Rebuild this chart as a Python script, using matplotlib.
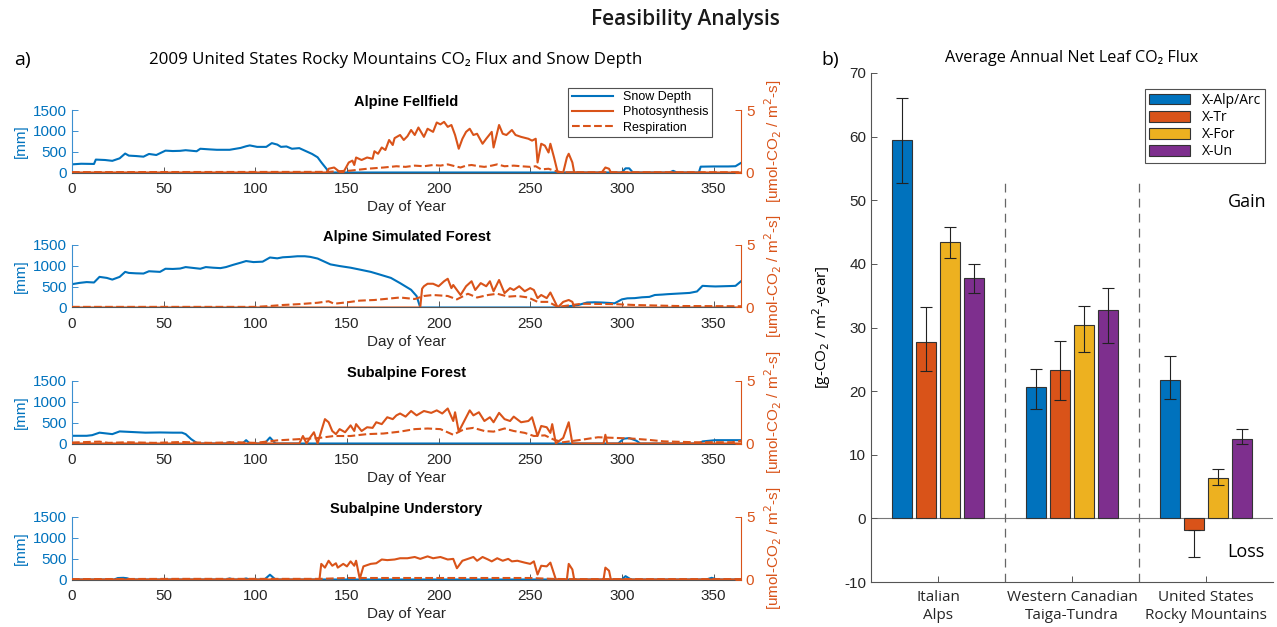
import numpy as np
import matplotlib.pyplot as plt

plt.rcParams['font.family'] = ['Liberation Sans', 'DejaVu Sans']
plt.rcParams['axes.unicode_minus'] = False
SEG = ['Open Sans', 'DejaVu Sans']

BLUE = '#0072BD'
LBLUE = '#3b8fd0'
ORANGE = '#D95319'
YELLOW = '#EDB120'
PURPLE = '#7E2F8E'

# ---- panel a: daily series ----
fell_snow_day = [0, 5, 12, 13, 18, 22, 26, 29, 31, 35, 39, 42, 46, 51, 55, 59, 62, 68, 70, 75,
                 79, 86, 92, 95, 97, 101, 106, 109, 112, 114, 117, 120, 124, 127, 131, 134, 136,
                 139, 140, 300, 302, 304, 306, 326, 328, 330, 342, 343, 350, 358, 362, 365]
fell_snow = [195, 210, 205, 310, 300, 280, 340, 455, 405, 395, 380, 445, 420, 525, 515, 520, 535,
             510, 570, 555, 545, 545, 590, 630, 650, 615, 615, 705, 670, 615, 625, 570, 585, 525,
             445, 365, 245, 80, 0, 0, 100, 100, 0, 0, 40, 0, 0, 140, 145, 145, 150, 230]
fell_ps_day = [0, 139, 140, 143, 146, 148, 151, 153, 154, 155, 158, 161, 164, 165, 167, 169, 171,
               173, 175, 176, 179, 181, 183, 185, 187, 189, 192, 194, 197, 199, 201, 203, 205, 207,
               209, 211, 213, 215, 217, 219, 221, 224, 226, 229, 230, 233, 235, 237, 240, 242,
               245, 249, 251, 253, 254, 256, 258, 260, 261, 263, 265, 268, 270, 271, 273, 274,
               289, 291, 293, 294, 365]
fell_ps = [0, 0, 0.3, 0.4, 0.05, 0, 0.8, 0.95, 0.6, 1.2, 1.0, 1.2, 1.1, 1.7, 1.5, 2.0, 1.8, 2.6,
           2.2, 2.75, 3.0, 2.6, 2.9, 3.4, 3.0, 3.6, 2.85, 3.5, 3.25, 4.0, 3.85, 4.05, 3.65, 3.8,
           3.0, 1.9, 2.7, 3.25, 3.5, 3.0, 3.1, 2.3, 2.7, 3.25, 2.0, 3.8, 3.1, 3.0, 3.4, 3.0, 2.85,
           2.7, 2.55, 2.7, 0.8, 2.3, 2.15, 1.6, 2.3, 1.2, 0, 0, 1.2, 1.5, 0.8, 0, 0, 0.4, 0.3, 0, 0]
fell_rs_day = [0, 140, 145, 152, 161, 170, 177, 182, 187, 192, 197, 201, 205, 209, 212, 215, 218,
               222, 225, 229, 232, 236, 241, 245, 250, 253, 256, 260, 263, 267, 365]
fell_rs = [0.03, 0.05, 0.1, 0.15, 0.3, 0.4, 0.5, 0.45, 0.55, 0.5, 0.6, 0.55, 0.65, 0.5, 0.4, 0.55,
           0.6, 0.5, 0.45, 0.55, 0.65, 0.5, 0.55, 0.5, 0.45, 0.5, 0.25, 0.3, 0.15, 0.02, 0.02]

simf_snow_day = [0, 4, 8, 12, 15, 19, 22, 26, 29, 31, 35, 39, 42, 48, 51, 55, 59, 62, 66, 70, 73,
                 77, 81, 84, 88, 92, 95, 99, 104, 108, 112, 115, 119, 123, 127, 130, 134, 137, 141,
                 146, 152, 157, 163, 168, 174, 179, 185, 188, 190, 266, 271, 276, 281, 285, 289,
                 293, 296, 300, 303, 307, 311, 315, 318, 322, 325, 329, 333, 337, 341, 344, 348,
                 351, 355, 359, 362, 365]
simf_snow = [560, 590, 610, 600, 735, 710, 670, 735, 855, 830, 820, 815, 870, 855, 930, 925, 935,
             970, 950, 930, 970, 955, 945, 970, 1025, 1075, 1115, 1090, 1100, 1200, 1180, 1205,
             1215, 1230, 1230, 1215, 1175, 1115, 1035, 995, 955, 910, 855, 790, 710, 585, 425, 275,
             0, 0, 30, 57, 120, 125, 120, 110, 100, 195, 220, 225, 245, 255, 300, 310, 320, 330,
             340, 350, 385, 520, 510, 505, 510, 515, 520, 630]
simf_ps_day = [0, 190, 191, 192, 194, 197, 200, 203, 205, 207, 208, 210, 212, 215, 218, 220, 223,
               226, 228, 230, 233, 236, 239, 241, 244, 247, 250, 252, 254, 256, 259, 261, 263, 265,
               268, 271, 273, 274, 365]
simf_ps = [0, 0, 1.5, 1.7, 1.9, 1.9, 1.7, 2.1, 2.3, 1.55, 1.8, 1.4, 1.0, 1.7, 2.1, 1.4, 1.95, 1.7,
           2.1, 1.3, 2.2, 1.15, 1.55, 1.4, 1.7, 1.3, 1.55, 1.4, 0.75, 1.0, 0.75, 1.2, 0.6, 0, 0.45,
           0.6, 0.45, 0, 0]
simf_rs_day = [0, 100, 106, 115, 124, 134, 140, 143, 152, 157, 165, 172, 179, 187, 192, 197, 205,
               210, 216, 221, 227, 232, 238, 243, 249, 254, 260, 265, 278, 296, 307, 330, 365]
simf_rs = [0.05, 0.05, 0.1, 0.2, 0.27, 0.38, 0.5, 0.3, 0.45, 0.55, 0.6, 0.7, 0.8, 0.68, 0.92, 1.0,
           0.92, 0.65, 1.1, 0.8, 1.0, 1.1, 0.87, 0.92, 0.8, 0.45, 0.45, 0.05, 0.3, 0.27, 0.2,
           0.12, 0.1]

subf_snow_day = [0, 8, 11, 15, 19, 22, 26, 33, 40, 48, 55, 60, 62, 65, 68, 70, 84, 86, 88, 93, 95,
                 97, 105, 108, 111, 298, 301, 304, 308, 310, 342, 344, 351, 365]
subf_snow = [185, 185, 200, 260, 240, 225, 290, 275, 260, 265, 260, 260, 225, 105, 15, 0, 0, 30,
             0, 0, 80, 0, 0, 145, 0, 0, 115, 130, 65, 0, 0, 50, 80, 80]
subf_ps_day = [0, 124, 126, 128, 130, 132, 134, 136, 138, 140, 142, 144, 146, 149, 152, 154, 155,
               158, 161, 164, 166, 169, 172, 175, 177, 179, 182, 185, 188, 192, 196, 199, 202, 205,
               208, 209, 211, 214, 217, 219, 222, 225, 228, 230, 233, 236, 239, 241, 245, 249, 251,
               254, 256, 259, 261, 262, 264, 268, 271, 273, 290, 291, 292, 365]
subf_ps = [0, 0, 0.6, 0, 0.5, 0.9, 0, 1.0, 1.95, 1.7, 1.0, 0.75, 1.15, 0.9, 1.45, 1.0, 1.55, 1.0,
           1.3, 1.25, 1.7, 1.55, 2.1, 1.95, 2.25, 2.4, 2.15, 2.6, 2.25, 2.6, 2.45, 2.65, 2.4, 2.8,
           1.8, 2.5, 0.95, 1.8, 2.65, 2.25, 2.5, 1.8, 2.1, 1.7, 2.45, 1.95, 1.8, 2.15, 1.7, 1.8,
           2.1, 0.6, 1.4, 1.3, 0.85, 1.55, 0, 0.45, 1.7, 0, 0, 0.7, 0, 0]
subf_rs_day = [0, 15, 20, 30, 45, 60, 75, 90, 100, 112, 124, 134, 143, 152, 161, 170, 179, 187,
               194, 201, 208, 214, 219, 225, 230, 236, 241, 247, 252, 258, 263, 268, 278, 287, 296,
               305, 314, 323, 340, 360, 365]
subf_rs = [0.08, 0.15, 0.05, 0.1, 0.05, 0.12, 0.05, 0.1, 0.05, 0.25, 0.35, 0.43, 0.6, 0.6, 0.75,
           0.8, 0.95, 1.15, 1.2, 1.15, 0.7, 1.15, 1.25, 1.0, 0.95, 1.2, 1.0, 0.85, 0.6, 0.65, 0.3,
           0.1, 0.3, 0.5, 0.45, 0.4, 0.3, 0.17, 0.1, 0.1, 0.2]

subu_snow_day = [0, 23, 25, 28, 30, 32, 84, 86, 88, 93, 95, 97, 105, 108, 111, 300, 302, 305, 346,
                 349, 352, 365]
subu_snow = [0, 0, 35, 40, 30, 0, 0, 25, 0, 0, 25, 0, 0, 115, 0, 0, 80, 0, 0, 40, 0, 0]
subu_ps_day = [0, 135, 136, 138, 140, 142, 144, 145, 148, 150, 152, 154, 155, 157, 159, 163, 166,
               169, 172, 176, 179, 183, 187, 190, 194, 197, 201, 205, 208, 210, 213, 216, 219, 221,
               224, 227, 229, 232, 235, 238, 240, 243, 247, 250, 252, 254, 256, 259, 261, 264, 270,
               271, 273, 274, 290, 291, 293, 294, 365]
subu_ps = [0, 0, 1.25, 0.95, 1.5, 1.1, 1.3, 0.95, 1.25, 1.05, 1.45, 1.1, 1.5, 0.05, 1.05, 1.25,
           1.3, 1.6, 1.55, 1.6, 1.7, 1.7, 1.8, 1.65, 1.85, 1.7, 1.8, 1.6, 1.65, 0.9, 1.5, 1.65, 1.8,
           1.5, 1.8, 1.6, 1.45, 1.7, 1.5, 1.65, 1.45, 1.5, 1.35, 1.25, 1.45, 0.4, 1.1, 1.05, 1.35,
           0, 0, 1.25, 0.8, 0, 0, 0.95, 0.7, 0, 0]
subu_rs_day = [0, 60, 120, 135, 150, 200, 250, 262, 270, 365]
subu_rs = [0.03, 0.05, 0.05, 0.05, 0.12, 0.12, 0.12, 0.05, 0.03, 0.03]

site_names = ['Alpine Fellfield', 'Alpine Simulated Forest', 'Subalpine Forest',
              'Subalpine Understory']

# ---- panel b: annual net leaf flux ----
regions = ['Italian\nAlps', 'Western Canadian\nTaiga-Tundra', 'United States\nRocky Mountains']
series = ['X-Alp/Arc', 'X-Tr', 'X-For', 'X-Un']
alp = [59.4, 20.7, 21.7]
alp_lo = [52.7, 17.2, 18.8]
alp_hi = [66.1, 23.4, 25.5]
tr = [27.7, 23.3, -1.8]
tr_lo = [23.1, 18.6, -6.0]
tr_hi = [33.2, 27.9, -1.8]
fo = [43.5, 30.4, 6.3]
fo_lo = [41.0, 26.2, 5.3]
fo_hi = [45.8, 33.4, 7.8]
un = [37.8, 32.7, 12.5]
un_lo = [35.4, 27.6, 11.7]
un_hi = [40.0, 36.2, 14.1]

W, H = 1277, 627
fig = plt.figure(figsize=(W / 100, H / 100), dpi=100)

fig.text(685 / W, 1 - 20 / H, 'Feasibility Analysis', ha='center', va='center',
         fontsize=15, family=SEG, fontweight='semibold', color='#1a1a1a')
fig.text(22 / W, 1 - 60 / H, 'a)', ha='center', va='center', fontsize=14, family=SEG)
fig.text(830 / W, 1 - 60 / H, 'b)', ha='center', va='center', fontsize=14, family=SEG)
fig.text(396 / W, 1 - 60 / H, '2009 United States Rocky Mountains CO\u2082 Flux and Snow Depth',
         ha='center', va='center', fontsize=12.2, family=SEG)

panels = [
    (fell_snow_day, fell_snow, fell_ps_day, fell_ps, fell_rs_day, fell_rs),
    (simf_snow_day, simf_snow, simf_ps_day, simf_ps, simf_rs_day, simf_rs),
    (subf_snow_day, subf_snow, subf_ps_day, subf_ps, subf_rs_day, subf_rs),
    (subu_snow_day, subu_snow, subu_ps_day, subu_ps, subu_rs_day, subu_rs),
]
tops = [110, 245, 381, 517]

for i, (sd, sv, pd, pv, rd, rv) in enumerate(panels):
    ax = fig.add_axes([72 / W, 1 - (tops[i] + 62.5) / H, 669 / W, 62.5 / H])
    l1, = ax.plot(sd, sv, color=BLUE, lw=1.5, label='Snow Depth')
    ax.set_xlim(0, 365)
    ax.set_ylim(0, 1500)
    ax.set_yticks([0, 500, 1000, 1500])
    ax.set_xticks(range(0, 351, 50))
    for s in ['top', 'right']:
        ax.spines[s].set_visible(False)
    ax.spines['left'].set_color(LBLUE)
    ax.spines['bottom'].set_color('#555555')
    ax.tick_params(direction='in', labelsize=11, length=4, width=0.7, colors='#555555',
                   labelcolor='#262626')
    ax.tick_params(axis='x', pad=7)
    ax.tick_params(axis='y', colors=LBLUE, labelcolor=BLUE)
    ax.set_ylabel('[mm]', color=BLUE, fontsize=11, labelpad=4)
    ax.set_xlabel('Day of Year', fontsize=11, labelpad=3, color='#262626')
    ax.set_title(site_names[i], fontweight='bold', fontsize=10.5, pad=3)

    ax2 = ax.twinx()
    l2, = ax2.plot(pd, pv, color=ORANGE, lw=1.5, label='Photosynthesis')
    l3, = ax2.plot(rd, rv, color=ORANGE, lw=1.5, ls='--', label='Respiration')
    ax2.set_ylim(0, 5)
    ax2.set_yticks([0, 5])
    for s in ['top', 'left', 'bottom']:
        ax2.spines[s].set_visible(False)
    ax2.spines['right'].set_color(ORANGE)
    ax2.tick_params(direction='in', labelsize=11, length=4, width=0.7, colors=ORANGE)
    ax2.set_ylabel('[umol-CO$_2$ / m$^2$-s]', color=ORANGE, fontsize=11, labelpad=6)
    if i == 0:
        leg = ax2.legend(handles=[l1, l2, l3], loc='upper right', bbox_to_anchor=(0.957, 1.36),
                         fontsize=9, frameon=True, fancybox=False, edgecolor='#262626',
                         handlelength=3.3, borderpad=0.3, labelspacing=0.25, borderaxespad=0)
        leg.get_frame().set_linewidth(0.8)

# ---- panel b ----
axb = fig.add_axes([871 / W, 1 - 582 / H, 402 / W, 509 / H])
x = np.arange(1, 4)
step = 0.18
bw = 0.148
groups = [(alp, alp_lo, alp_hi, BLUE), (tr, tr_lo, tr_hi, ORANGE),
          (fo, fo_lo, fo_hi, YELLOW), (un, un_lo, un_hi, PURPLE)]
for k, (v, lo, hi, c) in enumerate(groups):
    xs = x + (k - 1.5) * step
    v = np.array(v)
    axb.bar(xs, v, bw, color=c, edgecolor='#333333', linewidth=0.8, label=series[k], zorder=2)
    err = [v - np.array(lo), np.array(hi) - v]
    axb.errorbar(xs, v, yerr=err, fmt='none', ecolor='#222222', elinewidth=0.8, capsize=4,
                 capthick=0.8, zorder=3)

axb.axhline(0, color='#777777', lw=0.8, zorder=1)
axb.vlines([1.5, 2.5], -10, 53, colors='#666666', linestyles=(0, (7, 5)), lw=0.9)
axb.set_xlim(0.5, 3.5)
axb.set_ylim(-10, 70)
axb.set_yticks(range(-10, 71, 10))
axb.set_xticks(x)
axb.set_xticklabels(regions, family=SEG, fontsize=10)
for s in ['top', 'right']:
    axb.spines[s].set_visible(False)
for s in ['left', 'bottom']:
    axb.spines[s].set_color('#555555')
axb.tick_params(direction='in', labelsize=11, length=4, width=0.7, colors='#555555',
                labelcolor='#262626')
axb.tick_params(axis='x', pad=6)
axb.set_ylabel('[g-CO$_2$ / m$^2$-year]', fontsize=11, family=SEG, labelpad=8)
axb.set_title('Average Annual Net Leaf CO\u2082 Flux', fontsize=11.6, family=SEG, pad=8)
axb.text(3.31, 49.8, 'Gain', ha='center', va='center', fontsize=13, family=SEG)
axb.text(3.30, -5.3, 'Loss', ha='center', va='center', fontsize=13, family=SEG)
lg = axb.legend(loc='upper right', bbox_to_anchor=(0.98, 0.969),
                prop={'family': SEG, 'size': 10}, fancybox=False, edgecolor='#262626',
                handlelength=3.0, handleheight=0.8, borderpad=0.3, labelspacing=0.15,
                borderaxespad=0)
lg.get_frame().set_linewidth(0.8)

plt.savefig('out.png', dpi=100)
